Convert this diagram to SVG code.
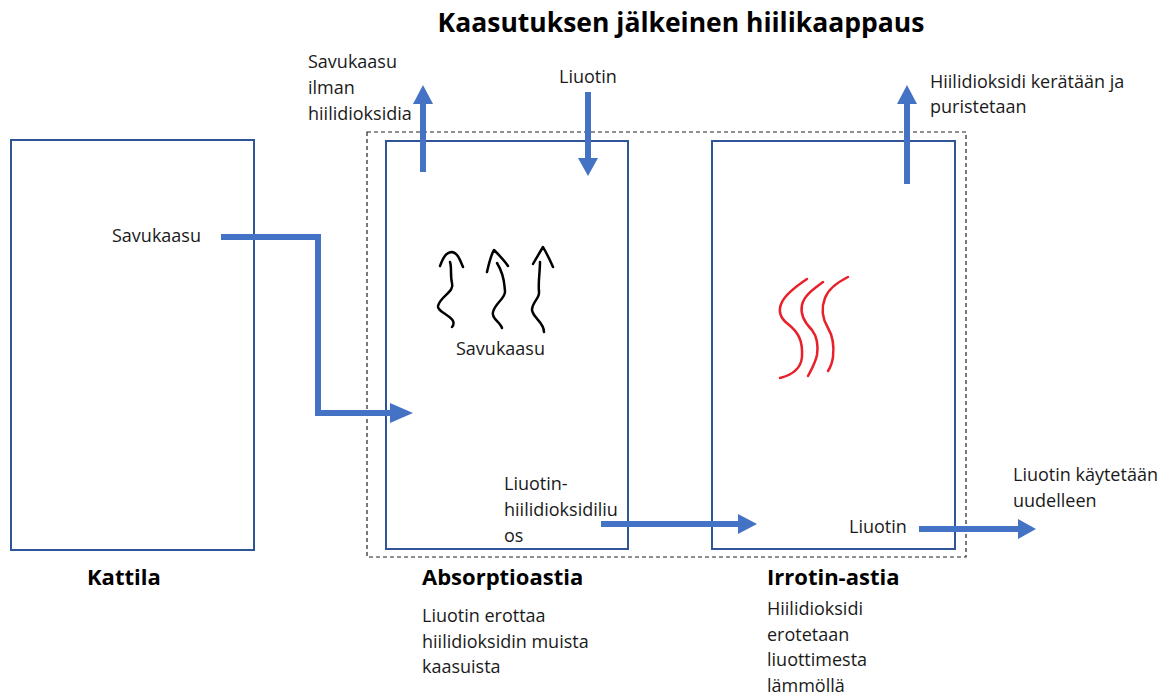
<svg xmlns="http://www.w3.org/2000/svg" width="1176" height="700" viewBox="0 0 1176 700">
<style>
.box{fill:none;stroke:#2F5597;stroke-width:2}
.flow{fill:none;stroke:#4472C4;stroke-width:6}
.head{fill:#4472C4}
.t{font-family:"Open Sans",Lato,"Liberation Sans",sans-serif;font-size:18px;fill:#1a1a1a}
.b{font-family:"Open Sans",Lato,"Liberation Sans",sans-serif;font-size:22px;font-weight:bold;fill:#000}
.sq{fill:none;stroke:#000;stroke-width:2.5;stroke-linecap:round;stroke-linejoin:round}
.rd{fill:none;stroke:#E8202A;stroke-width:2.5;stroke-linecap:round}
</style>
<rect width="1176" height="700" fill="#fff"/>
<text class="b" x="681" y="32" text-anchor="middle" style="font-size:26.5px">Kaasutuksen jälkeinen hiilikaappaus</text>

<g id="capture-unit">
<rect x="367" y="132" width="599" height="425" fill="none" stroke="#222" stroke-width="1.2" stroke-dasharray="4,3"/>
</g>

<g id="kattila">
<rect class="box" x="11" y="140" width="243" height="410"/>
<text class="t" x="112" y="242">Savukaasu</text>
<text class="b" x="87" y="585">Kattila</text>
</g>

<g id="absorptio">
<rect class="box" x="386" y="141" width="242" height="408"/>
<path class="sq" d="M452,327 C460,318 436,312 438,306 C440,296 455,292 452,283 C450,275 452,268 450,262"/>
<path class="sq" d="M440,266 C443,258 446,252 452,252 C458,253 460,260 463,267"/>
<path class="sq" d="M502,328 C500,322 491,318 493,312 C495,303 506,298 505,291 C504,284 505,276 497,263"/>
<path class="sq" d="M487,272 C489,263 491,255 494,250 C499,255 504,260 508,266"/>
<path class="sq" d="M544,332 C544,322 533,318 532,310 C532,302 540,298 539,292 C538,282 540,272 540,262"/>
<path class="sq" d="M533,264 C537,257 540,252 543,247 C547,254 550,260 553,267"/>
<text class="t" x="456" y="355">Savukaasu</text>
<text class="t" x="504" y="490">Liuotin-</text>
<text class="t" x="504" y="516">hiilidioksidiliu</text>
<text class="t" x="504" y="542">os</text>
<text class="b" x="422" y="585">Absorptioastia</text>
<text class="t" x="422" y="622">Liuotin erottaa</text>
<text class="t" x="422" y="648">hiilidioksidin muista</text>
<text class="t" x="422" y="673">kaasuista</text>
</g>

<g id="irrotin">
<rect class="box" x="712" y="141" width="243" height="408"/>
<path class="rd" d="M807,279 C798,285 786,294 782,302 C778,310 780,318 788,324 C798,332 803,340 802,357 C801,368 792,375 780,378"/>
<path class="rd" d="M823,282 C812,290 804,296 802,305 C800,314 804,322 812,330 C818,338 818,348 817,355 C815,364 811,370 808,376"/>
<path class="rd" d="M848,277 C838,282 828,290 825,298 C821,308 822,318 828,328 C834,338 834,348 833,357 C832,364 830,368 828,371"/>
<text class="t" x="849" y="533">Liuotin</text>
<text class="b" x="767" y="585">Irrotin-astia</text>
<text class="t" x="767" y="615">Hiilidioksidi</text>
<text class="t" x="767" y="641">erotetaan</text>
<text class="t" x="767" y="666">liuottimesta</text>
<text class="t" x="767" y="692">lämmöllä</text>
</g>

<g id="labels">
<text class="t" x="308" y="68">Savukaasu</text>
<text class="t" x="308" y="94">ilman</text>
<text class="t" x="308" y="120">hiilidioksidia</text>
<text class="t" x="559" y="83">Liuotin</text>
<text class="t" x="930" y="88">Hiilidioksidi kerätään ja</text>
<text class="t" x="930" y="113">puristetaan</text>
<text class="t" x="1013" y="481">Liuotin käytetään</text>
<text class="t" x="1013" y="507">uudelleen</text>
</g>

<g id="connectors">
<polyline class="flow" points="221,237 318,237 318,413 392,413"/>
<polygon class="head" points="390,403 413,413 390,423"/>
<line class="flow" x1="423" y1="172" x2="423" y2="102"/>
<polygon class="head" points="413,104 423,85 433,104"/>
<line class="flow" x1="588" y1="92" x2="588" y2="160"/>
<polygon class="head" points="578,158 588,176 598,158"/>
<line class="flow" x1="907" y1="184" x2="907" y2="102"/>
<polygon class="head" points="897,104 907,85 917,104"/>
<line class="flow" x1="601" y1="524" x2="740" y2="524"/>
<polygon class="head" points="738,514 757,524 738,534"/>
<line class="flow" x1="919" y1="529" x2="1020" y2="529"/>
<polygon class="head" points="1018,519 1036,529 1018,539"/>
</g>
</svg>
